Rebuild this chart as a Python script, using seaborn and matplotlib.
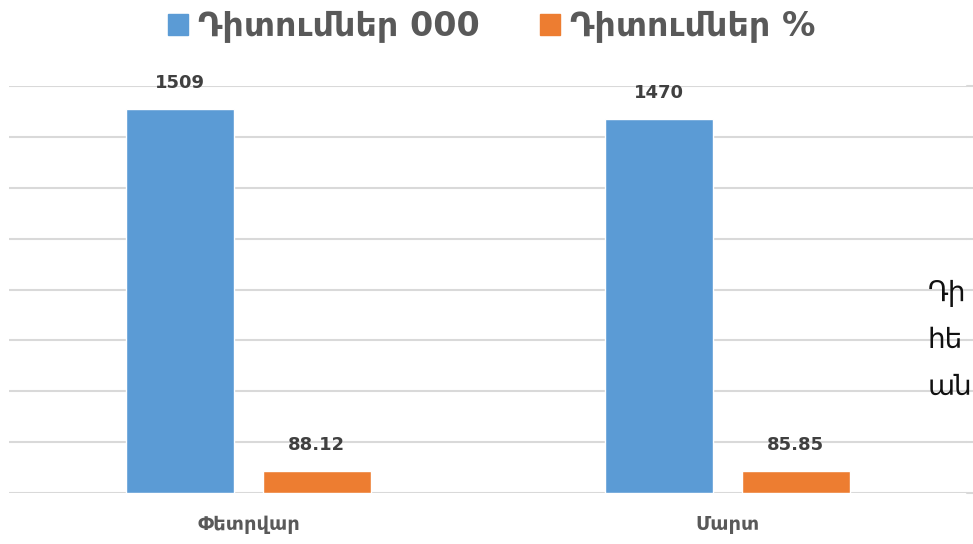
import pandas as pd
import matplotlib.pyplot as plt
import matplotlib.patches as mpatches
import seaborn as sns

# Տվյալներ
months = ["Փետրվար", "Մարտ"]
series = ["Դիտումներ 000", "Դիտումներ %"]
views_000 = [1509, 1470]
views_pct = [88.12, 85.85]
labels_000 = ["1509", "1470"]
labels_pct = ["88.12", "85.85"]
side_text = ["Դի", "հե", "ան"]

colors = ["#5B9BD5", "#ED7D31"]

df = pd.DataFrame({
    "month": months * 2,
    "series": [series[0]] * 2 + [series[1]] * 2,
    "value": views_000 + views_pct,
})

sns.set_style("white")
plt.rcParams["font.family"] = ["DejaVu Sans"]

fig = plt.figure(figsize=(9.73, 5.44), dpi=100)
ax = fig.add_axes([9 / 973, 1 - 493 / 544, 958 / 973, (493 - 86) / 544])

sns.barplot(data=df, x="month", y="value", hue="series", palette=colors,
            width=0.57, gap=0.21, ax=ax, legend=False, saturation=1)

ax.set_ylim(0, 1600)
ax.set_xlim(-0.5, 1.5)
ax.set_yticks(range(0, 1601, 200))
ax.yaxis.grid(True, color="#D9D9D9", linewidth=1.5)
ax.set_axisbelow(True)
ax.tick_params(axis="y", left=False, labelleft=False)
ax.tick_params(axis="x", bottom=False, pad=12, labelsize=14, labelcolor="#595959")
for lbl in ax.get_xticklabels():
    lbl.set_fontweight("bold")
for s in ax.spines.values():
    s.set_visible(False)
ax.set_xlabel("")
ax.set_ylabel("")

ax.bar_label(ax.containers[0], labels=labels_000, padding=12, fontsize=13,
             fontweight="bold", color="#404040")
ax.bar_label(ax.containers[1], labels=labels_pct, padding=12, fontsize=13,
             fontweight="bold", color="#404040")

# գծերը մինչև աջ եզր
for y in range(0, 1601, 200):
    ax.axhline(y, xmin=1, xmax=1.01, color="#D9D9D9", linewidth=1.5, clip_on=False)

handles = [mpatches.Patch(color=c, label=s) for c, s in zip(colors, series)]
fig.legend(handles=handles, loc="center", bbox_to_anchor=(0.505, 1 - 27 / 544),
           ncol=2, frameon=False, handlelength=0.6, handleheight=0.6,
           handletextpad=0.3, columnspacing=1.8,
           prop={"size": 24, "weight": "bold"}, labelcolor="#595959")

for i, t in enumerate(side_text):
    fig.text(928 / 973, 1 - (301 + 47 * i) / 544, t, fontsize=20,
             color="#111111", va="baseline", ha="left")

fig.savefig("out.png", dpi=100)
